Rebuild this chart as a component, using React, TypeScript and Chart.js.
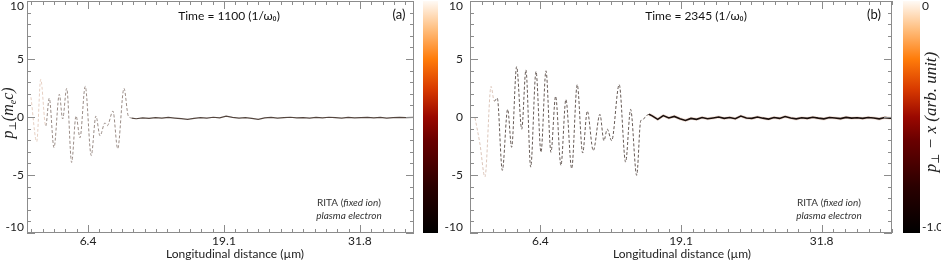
import React, { useEffect, useRef } from "react";
import { Chart, registerables } from "chart.js";
Chart.register(...registerables);

// ---------- data ----------
// panel (a)  Time = 1100
const aOscX = [1.07, 1.61, 1.98, 2.45, 2.78, 3.22, 3.72, 4.03, 4.41, 4.87, 5.28, 5.65, 6.14, 6.70, 7.14, 7.52, 7.98, 8.2, 8.73, 9.17, 9.76, 10.16, 10.48];
const aOscY = [1.70, -2.13, 3.24, -0.77, 1.62, -2.64, 1.96, -0.17, 2.47, -3.92, 0.09, -1.79, 2.64, -3.32, 0.09, -1.62, -0.51, -0.75, 0.51, -2.73, 2.47, 0.09, -0.09];
const aFlatX = [10.48, 10.9, 11.5, 12.1, 12.7, 13.3, 13.9, 14.5, 15.1, 15.7, 16.3, 16.9, 17.5, 18.1, 18.7, 19.3, 19.9, 20.5, 21.1, 21.7, 22.3, 22.9, 23.5, 24.1, 24.7, 25.3, 25.9, 26.5, 27.1, 27.7, 28.3, 28.9, 29.5, 30.1, 30.7, 31.3, 31.9, 32.5, 33.1, 33.7, 34.3, 34.9, 35.5, 36.1, 36.85];
const aFlatY = [-0.09, -0.15, -0.08, -0.12, -0.05, -0.1, -0.04, -0.09, -0.14, -0.2, -0.12, -0.06, -0.1, -0.02, -0.08, 0.08, -0.03, -0.1, -0.05, -0.12, -0.2, -0.08, -0.04, -0.1, -0.06, -0.02, -0.08, -0.05, -0.1, -0.04, -0.07, -0.02, -0.06, -0.1, -0.04, -0.08, -0.05, -0.03, -0.07, -0.04, -0.09, -0.05, -0.03, -0.06, -0.04];

// panel (b)  Time = 2345
const bOscX = [0.50, 0.95, 1.40, 1.95, 2.24, 2.51, 2.97, 3.45, 3.81, 4.26, 4.72, 5.10, 5.53, 6.01, 6.46, 6.91, 7.36, 7.78, 8.26, 8.71, 9.23, 9.73, 10.22, 10.64, 11.18, 11.78, 12.14, 12.44, 12.84, 13.52, 14.10, 14.55, 15.10, 15.46, 15.69, 15.93, 16.21];
const bOscY = [-0.06, -2.33, -5.17, 2.64, 1.36, 1.64, -4.60, 0.66, -2.61, 4.34, -1.05, 4.06, -4.32, 3.92, -3.04, 3.98, -3.04, 1.79, -4.17, 1.51, -4.45, 2.79, -3.10, 0.51, -2.90, 0.23, -2.04, -1.05, -2.04, 2.79, -3.89, 0.66, -5.03, -0.34, -0.20, 0.09, 0.23];
const bFlatX = [16.21, 16.5, 17.0, 17.5, 18.0, 18.5, 19.0, 19.5, 20.0, 20.5, 21.0, 21.5, 22.0, 22.5, 23.0, 23.5, 24.0, 24.5, 25.0, 25.5, 26.0, 26.5, 27.0, 27.5, 28.0, 28.5, 29.0, 29.5, 30.0, 30.5, 31.0, 31.5, 32.0, 32.5, 33.0, 33.5, 34.0, 34.5, 35.0, 35.5, 36.0, 36.5, 37.0, 37.5, 38.0, 38.15];
const bFlatY = [0.23, 0.1, -0.2, 0.12, -0.08, 0.05, -0.15, -0.3, -0.12, -0.2, -0.05, -0.15, -0.08, 0.0, -0.12, -0.05, -0.15, 0.08, -0.08, -0.12, 0.0, -0.1, -0.18, -0.05, -0.12, 0.04, -0.08, -0.16, -0.06, -0.12, -0.02, -0.1, -0.16, -0.04, -0.08, -0.14, -0.03, -0.1, -0.06, -0.12, -0.04, -0.08, -0.16, -0.05, -0.1, -0.07];

// ticks
const xMajorTicks = [6.4, 19.1, 31.8];
const xMajorLabels = ["6.4", "19.1", "31.8"];
const xMinorStep = 12.7 / 12;
const yMajorTicks = [-10, -5, 0, 5, 10];
const yMajorLabels = ["-10", "-5", "0", "5", "10"];
const yMinorStep = 1;

// colorbars
const cbATicks = [10, 5, 0, -5, -10];
const cbALabels = ["10", "5", "0", "-5", "-10"];
const cbBTicks = [0, -1];
const cbBLabels = ["0", "-1.0"];
const cmapStops = [0, 0.2, 0.4, 0.5, 0.62, 0.75, 0.88, 1];
const cmapColors = ["#000000", "#2a0000", "#6a0000", "#9a0800", "#d83a00", "#ff7c0a", "#ffbf80", "#fffaf5"];

const SANS = "Lato, 'Open Sans', sans-serif";
const SERIF = "'Liberation Serif', 'DejaVu Serif', serif";
const H = 263;
const TOP = 1;
const BOTTOM = 233;

function drawMixed(ctx: CanvasRenderingContext2D, parts: [string, boolean][], cx: number, y: number, size: number) {
  const fonts = parts.map(([, it]) => `${it ? "italic " : ""}${size}px ${SANS}`);
  let total = 0;
  const ws = parts.map(([t], i) => {
    ctx.font = fonts[i];
    const w = ctx.measureText(t).width;
    total += w;
    return w;
  });
  let x = cx - total / 2;
  ctx.textAlign = "left";
  parts.forEach(([t], i) => {
    ctx.font = fonts[i];
    ctx.fillText(t, x, y);
    x += ws[i];
  });
}

// rotated math label: parts = [text, fontSize, baselineShift]
function drawRotatedMath(ctx: CanvasRenderingContext2D, parts: [string, number, number][], cx: number, cy: number) {
  ctx.save();
  ctx.translate(cx, cy);
  ctx.rotate(-Math.PI / 2);
  ctx.textBaseline = "middle";
  ctx.textAlign = "left";
  let total = 0;
  const ws = parts.map(([t, s]) => {
    ctx.font = `italic ${s}px ${SERIF}`;
    const w = ctx.measureText(t).width;
    total += w;
    return w;
  });
  let x = -total / 2;
  parts.forEach(([t, s, dy], i) => {
    ctx.font = `italic ${s}px ${SERIF}`;
    ctx.fillText(t, x, dy);
    x += ws[i];
  });
  ctx.restore();
}

type PanelProps = {
  left: number; width: number; padL: number; padR: number;
  xMin: number; xMax: number;
  oscX: number[]; oscY: number[]; flatX: number[]; flatY: number[];
  oscColor: string; faintColor: string; faintUntil: number;
  flatColor: string; flatWidth: number; halo: boolean;
  title: string; titleX: number; tag: string; tagX: number;
  noteX: number; xTitleX: number; showYLabels: boolean;
};

function Panel(p: PanelProps) {
  const ref = useRef<HTMLCanvasElement>(null);
  useEffect(() => {
    const decor = {
      id: "decor",
      afterDatasetsDraw(chart: any) {
        const { ctx, chartArea: a, scales } = chart;
        const xs = scales.x, ys = scales.y;
        const off = p.left;
        ctx.save();
        ctx.strokeStyle = "#8c8c8c";
        ctx.lineWidth = 1;
        ctx.strokeRect(a.left + 0.5, a.top + 0.5, a.right - a.left - 1, a.bottom - a.top - 1);
        const tick = (x1: number, y1: number, x2: number, y2: number) => {
          ctx.beginPath(); ctx.moveTo(x1, y1); ctx.lineTo(x2, y2); ctx.stroke();
        };
        const start = xMajorTicks[0] - Math.floor((xMajorTicks[0] - xs.min) / xMinorStep) * xMinorStep;
        for (let v = start; v <= xs.max + 1e-9; v += xMinorStep) {
          const major = xMajorTicks.some((m) => Math.abs(m - v) < 1e-6);
          const len = major ? 8 : 4;
          const px = Math.round(xs.getPixelForValue(v)) + 0.5;
          tick(px, a.bottom, px, a.bottom - len);
          tick(px, a.top, px, a.top + len);
        }
        for (let v = ys.min; v <= ys.max + 1e-9; v += yMinorStep) {
          const major = yMajorTicks.some((m) => Math.abs(m - v) < 1e-6);
          const len = major ? 8 : 4;
          const py = Math.round(ys.getPixelForValue(v)) + 0.5;
          tick(a.left, py, a.left + len, py);
          tick(a.right, py, a.right - len, py);
        }
        ctx.fillStyle = "#222";
        ctx.textBaseline = "middle";
        ctx.font = `12px ${SANS}`;
        ctx.textAlign = "center";
        xMajorTicks.forEach((v, i) => ctx.fillText(xMajorLabels[i], xs.getPixelForValue(v), 241));
        if (p.showYLabels) {
          ctx.textAlign = "right";
          yMajorTicks.forEach((v, i) => {
            let py = ys.getPixelForValue(v);
            if (v === ys.max) py += 5;
            if (v === ys.min) py -= 6;
            ctx.fillText(yMajorLabels[i], 24, py);
          });
          drawRotatedMath(ctx, [["p", 16, 0], ["⊥", 10, 4], ["(m", 16, 0], ["e", 10, 4], ["c)", 16, 0]], 9, 113);
        }
        ctx.fillStyle = "#222";
        ctx.textBaseline = "middle";
        ctx.textAlign = "center";
        ctx.font = `12px ${SANS}`;
        ctx.fillText("Longitudinal distance (µm)", p.xTitleX - off, 254);
        ctx.fillStyle = "#111";
        ctx.fillText(p.title, p.titleX - off, 16);
        ctx.font = `13px ${SANS}`;
        ctx.fillText(p.tag, p.tagX - off, 15);
        ctx.fillStyle = "#333";
        drawMixed(ctx, [["RITA (", false], ["fixed ion", true], [")", false]], p.noteX - off, 203, 10);
        drawMixed(ctx, [["plasma electron", true]], p.noteX - off, 216, 10);
        ctx.restore();
      },
    };
    const datasets: any[] = [
      {
        data: p.flatX.map((x, i) => ({ x, y: p.flatY[i] })),
        borderColor: p.flatColor, borderWidth: p.flatWidth, pointRadius: 0, tension: 0, order: 0,
      },
      {
        data: p.oscX.map((x, i) => ({ x, y: p.oscY[i] })),
        borderColor: p.oscColor, borderWidth: 1, borderDash: [3, 2], pointRadius: 0,
        tension: 0.4, cubicInterpolationMode: "monotone", order: 2,
        segment: { borderColor: (c: any) => (c.p0.parsed.x < p.faintUntil ? p.faintColor : undefined) },
      },
    ];
    if (p.halo) {
      datasets.push({
        data: p.flatX.map((x, i) => ({ x, y: p.flatY[i] })),
        borderColor: "rgba(205,150,120,0.3)", borderWidth: 3, pointRadius: 0, tension: 0, order: 1,
      });
    }
    const chart = new Chart(ref.current!, {
      type: "line",
      data: { datasets },
      options: {
        responsive: false, animation: false,
        layout: { padding: { left: p.padL, right: p.padR, top: TOP, bottom: H - BOTTOM } },
        scales: {
          x: { type: "linear", min: p.xMin, max: p.xMax, display: false },
          y: { type: "linear", min: -10, max: 10, display: false },
        },
        plugins: { legend: { display: false }, tooltip: { enabled: false } },
      },
      plugins: [decor],
    } as any);
    return () => chart.destroy();
  }, []);
  return <canvas ref={ref} width={p.width} height={H} style={{ position: "absolute", left: p.left, top: 0 }} />;
}

type CbProps = {
  left: number; width: number; padL: number; padR: number; min: number; max: number;
  ticks: number[]; labels: string[]; labelX: number; align: "left" | "right"; withTitle?: boolean; titleX?: number;
};

function Colorbar(p: CbProps) {
  const ref = useRef<HTMLCanvasElement>(null);
  useEffect(() => {
    const deco = {
      id: "cbdeco",
      afterDatasetsDraw(chart: any) {
        const { ctx, scales } = chart;
        const ys = scales.y;
        ctx.save();
        ctx.fillStyle = "#222";
        ctx.textBaseline = "middle";
        ctx.textAlign = p.align;
        ctx.font = `12px ${SANS}`;
        p.ticks.forEach((v, i) => {
          let py = ys.getPixelForValue(v);
          if (v === p.max) py += 5;
          if (v === p.min) py -= 6;
          ctx.fillText(p.labels[i], p.labelX - p.left, py);
        });
        if (p.withTitle) {
          drawRotatedMath(ctx, [["p", 17, 0], ["⊥", 11, 4], [" − x (arb. unit)", 17, 0]], p.titleX! - p.left, 112);
        }
        ctx.restore();
      },
    };
    const chart = new Chart(ref.current!, {
      type: "bar",
      data: {
        labels: [""],
        datasets: [{
          data: [[p.min, p.max]],
          barPercentage: 1, categoryPercentage: 1, borderWidth: 0,
          backgroundColor: (c: any) => {
            const ca = c.chart.chartArea;
            if (!ca) return "#000";
            const g = c.chart.ctx.createLinearGradient(0, ca.bottom, 0, ca.top);
            cmapStops.forEach((s, i) => g.addColorStop(s, cmapColors[i]));
            return g;
          },
        }],
      },
      options: {
        responsive: false, animation: false,
        layout: { padding: { left: p.padL, right: p.padR, top: TOP, bottom: H - BOTTOM } },
        scales: {
          x: { display: false },
          y: { min: p.min, max: p.max, display: false },
        },
        plugins: { legend: { display: false }, tooltip: { enabled: false } },
      },
      plugins: [deco],
    } as any);
    return () => chart.destroy();
  }, []);
  return <canvas ref={ref} width={p.width} height={H} style={{ position: "absolute", left: p.left, top: 0 }} />;
}

export default function App() {
  return (
    <div style={{ position: "fixed", left: 0, top: 0, width: 941, height: 263, background: "#fff", overflow: "hidden" }}>
      <Panel
        left={0} width={420} padL={27} padR={6} xMin={0.7} xMax={36.85}
        oscX={aOscX} oscY={aOscY} flatX={aFlatX} flatY={aFlatY}
        oscColor="#9a8c86" faintColor="#e6cfc2" faintUntil={2.2}
        flatColor="#54463f" flatWidth={1.2} halo={false}
        title="Time = 1100 (1/ω₀)" titleX={229} tag="(a)" tagX={399}
        noteX={349} xTitleX={235} showYLabels={true}
      />
      <Colorbar left={418} width={48} padL={5} padR={28} min={-10} max={10}
        ticks={cbATicks} labels={cbALabels} labelX={463} align="right" />
      <Panel
        left={468} width={430} padL={2} padR={6} xMin={0.05} xMax={38.15}
        oscX={bOscX} oscY={bOscY} flatX={bFlatX} flatY={bFlatY}
        oscColor="#665a55" faintColor="#dcc6ba" faintUntil={2.0}
        flatColor="#1a0f0c" flatWidth={1.6} halo={true}
        title="Time = 2345 (1/ω₀)" titleX={696} tag="(b)" tagX={874}
        noteX={829} xTitleX={682} showYLabels={false}
      />
      <Colorbar left={898} width={43} padL={5} padR={21} min={-1} max={0}
        ticks={cbBTicks} labels={cbBLabels} labelX={922} align="left"
        withTitle={true} titleX={932} />
    </div>
  );
}
